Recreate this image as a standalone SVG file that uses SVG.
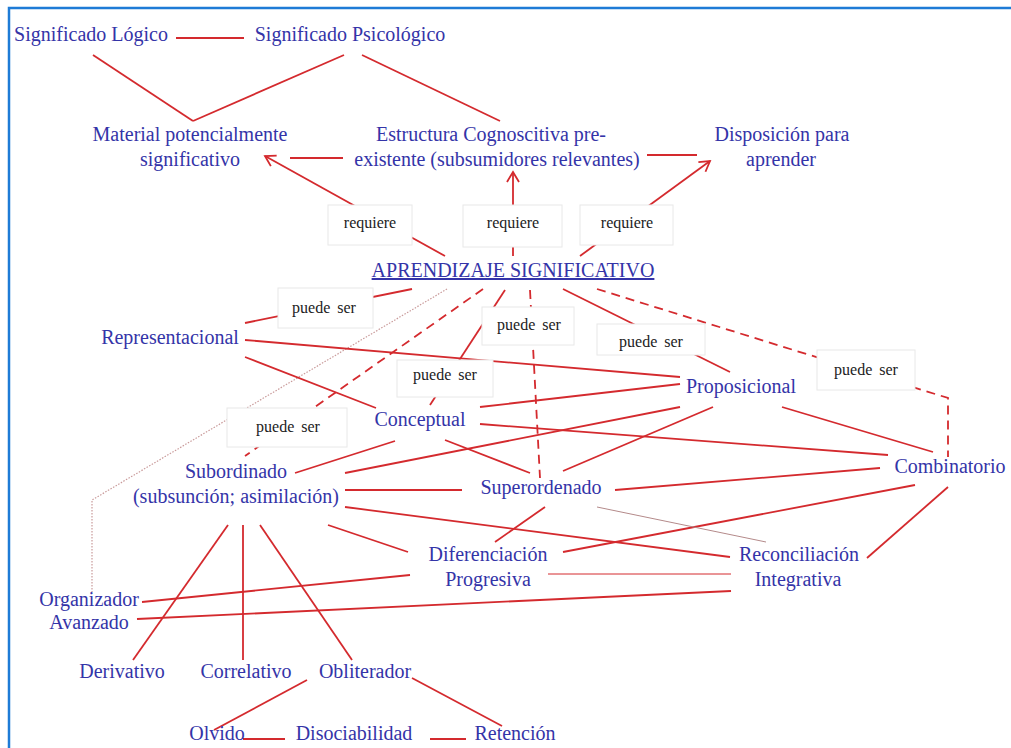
<svg xmlns="http://www.w3.org/2000/svg" width="1011" height="748" viewBox="0 0 1011 748">
<style>
.t{font-family:"Liberation Serif","Times New Roman",serif;font-size:20px;fill:#3434a8;text-anchor:middle}
.l{font-family:"Liberation Serif","Times New Roman",serif;font-size:16px;fill:#222;text-anchor:middle;word-spacing:3px}
.b{fill:#fff;stroke:#e8e8e8;stroke-width:1}
.c line,.c polyline{stroke:#d42a2e;stroke-width:1.8;fill:none}
.c .dash{stroke-dasharray:9 6}
.c .dot{stroke:#c99a9a;stroke-width:1.2;stroke-dasharray:1.5 1.5}
.c .thin{stroke-width:1}
.c .gray{stroke:#b48a8a;stroke-width:1}
</style>
<defs>
<marker id="ah" markerWidth="14" markerHeight="14" refX="12" refY="7" orient="auto" markerUnits="userSpaceOnUse">
<path d="M2,1 L12,7 L2,13" fill="none" stroke="#d42a2e" stroke-width="1.8"/>
</marker>
</defs>
<rect x="0" y="0" width="1011" height="748" fill="#fff"/>
<path d="M9,748 V8 H1011" fill="none" stroke="#1e7bd6" stroke-width="2.5"/>
<g id="connectors" class="c">
<line x1="176" y1="38" x2="244" y2="38"/>
<line x1="93" y1="55" x2="193" y2="121"/>
<line x1="344" y1="55" x2="193" y2="121"/>
<line x1="362" y1="55" x2="500" y2="121"/>
<line x1="343" y1="158" x2="290" y2="158"/>
<line x1="647" y1="155" x2="697" y2="155"/>
<line x1="445" y1="256" x2="265" y2="156" marker-end="url(#ah)"/>
<line x1="513" y1="256" x2="513" y2="172" marker-end="url(#ah)"/>
<line x1="580" y1="256" x2="710" y2="161" marker-end="url(#ah)"/>
<line x1="412" y1="289" x2="245" y2="323"/>
<polyline class="dot" points="447,289 92,500 92,592"/>
<line class="dash" x1="483" y1="289" x2="245" y2="456"/>
<line x1="505" y1="290" x2="430" y2="405"/>
<line class="dash" x1="530" y1="290" x2="540" y2="478"/>
<line x1="563" y1="289" x2="730" y2="372"/>
<polyline class="dash" points="597,289 948,398 948,457"/>
<line x1="245" y1="340" x2="680" y2="377"/>
<line x1="245" y1="357" x2="376" y2="408"/>
<line x1="480" y1="407" x2="680" y2="384"/>
<line x1="480" y1="424" x2="888" y2="455"/>
<line x1="445" y1="440" x2="530" y2="473"/>
<line x1="395" y1="441" x2="295" y2="473"/>
<line x1="345" y1="473" x2="680" y2="407"/>
<line x1="563" y1="471" x2="713" y2="407"/>
<line x1="782" y1="407" x2="933" y2="452"/>
<line x1="345" y1="490" x2="462" y2="490"/>
<line x1="615" y1="490" x2="880" y2="468"/>
<line x1="915" y1="485" x2="563" y2="552"/>
<line x1="948" y1="487" x2="867" y2="558"/>
<line x1="345" y1="507" x2="730" y2="557"/>
<line x1="545" y1="507" x2="495" y2="542"/>
<line class="gray" x1="597" y1="507" x2="766" y2="542"/>
<line x1="328" y1="525" x2="408" y2="552"/>
<line class="thin" x1="548" y1="574" x2="731" y2="574"/>
<line x1="142" y1="602" x2="410" y2="575"/>
<line x1="137" y1="619" x2="731" y2="591"/>
<line x1="228" y1="525" x2="133" y2="660"/>
<line x1="243" y1="525" x2="243" y2="660"/>
<line x1="260" y1="525" x2="352" y2="660"/>
<line x1="307" y1="680" x2="214" y2="730"/>
<line x1="412" y1="678" x2="502" y2="726"/>
<line x1="243" y1="739" x2="285" y2="739"/>
<line x1="430" y1="739" x2="466" y2="739"/>
</g>
<g id="req1"><rect class="b" x="328" y="205" width="84" height="40"/><text class="l" x="370" y="228">requiere</text></g>
<g id="req2"><rect class="b" x="463" y="205" width="99" height="42"/><text class="l" x="513" y="228">requiere</text></g>
<g id="req3"><rect class="b" x="580" y="205" width="93" height="40"/><text class="l" x="627" y="228">requiere</text></g>
<g id="psA"><rect class="b" x="278" y="288" width="95" height="40"/><text class="l" x="324" y="313">puede ser</text></g>
<g id="psB"><rect class="b" x="482" y="307" width="92" height="38"/><text class="l" x="529" y="330">puede ser</text></g>
<g id="psC"><rect class="b" x="597" y="324" width="108" height="31"/><text class="l" x="651" y="347">puede ser</text></g>
<g id="psD"><rect class="b" x="817" y="350" width="98" height="40"/><text class="l" x="866" y="375">puede ser</text></g>
<g id="psE"><rect class="b" x="397" y="360" width="96" height="37"/><text class="l" x="445" y="380">puede ser</text></g>
<g id="psF"><rect class="b" x="227" y="408" width="120" height="39"/><text class="l" x="288" y="432">puede ser</text></g>
<g id="n-logico"><text class="t" x="91" y="41">Significado Lógico</text></g>
<g id="n-psico"><text class="t" x="350" y="41">Significado Psicológico</text></g>
<g id="n-material"><text class="t" x="190" y="141">Material potencialmente</text><text class="t" x="190" y="166">significativo</text></g>
<g id="n-estructura"><text class="t" x="491" y="141">Estructura Cognoscitiva pre-</text><text class="t" x="497" y="166">existente (subsumidores relevantes)</text></g>
<g id="n-disposicion"><text class="t" x="782" y="141">Disposición para</text><text class="t" x="781" y="166">aprender</text></g>
<g id="n-aprendizaje"><text class="t" x="513" y="277" text-decoration="underline">APRENDIZAJE SIGNIFICATIVO</text></g>
<g id="n-repr"><text class="t" x="170" y="344">Representacional</text></g>
<g id="n-prop"><text class="t" x="741" y="393">Proposicional</text></g>
<g id="n-concep"><text class="t" x="420" y="426">Conceptual</text></g>
<g id="n-subord"><text class="t" x="236" y="478">Subordinado</text><text class="t" x="236" y="503">(subsunción; asimilación)</text></g>
<g id="n-superord"><text class="t" x="541" y="494">Superordenado</text></g>
<g id="n-combin"><text class="t" x="950" y="473">Combinatorio</text></g>
<g id="n-dif"><text class="t" x="488" y="561">Diferenciación</text><text class="t" x="488" y="586">Progresiva</text></g>
<g id="n-rec"><text class="t" x="799" y="561">Reconciliación</text><text class="t" x="798" y="586">Integrativa</text></g>
<g id="n-org"><text class="t" x="89" y="606">Organizador</text><text class="t" x="89" y="629">Avanzado</text></g>
<g id="n-deriv"><text class="t" x="122" y="678">Derivativo</text></g>
<g id="n-correl"><text class="t" x="246" y="678">Correlativo</text></g>
<g id="n-oblit"><text class="t" x="365" y="678">Obliterador</text></g>
<g id="n-olvido"><text class="t" x="217" y="740">Olvido</text></g>
<g id="n-disoc"><text class="t" x="354" y="740">Disociabilidad</text></g>
<g id="n-reten"><text class="t" x="515" y="740">Retención</text></g>
</svg>
